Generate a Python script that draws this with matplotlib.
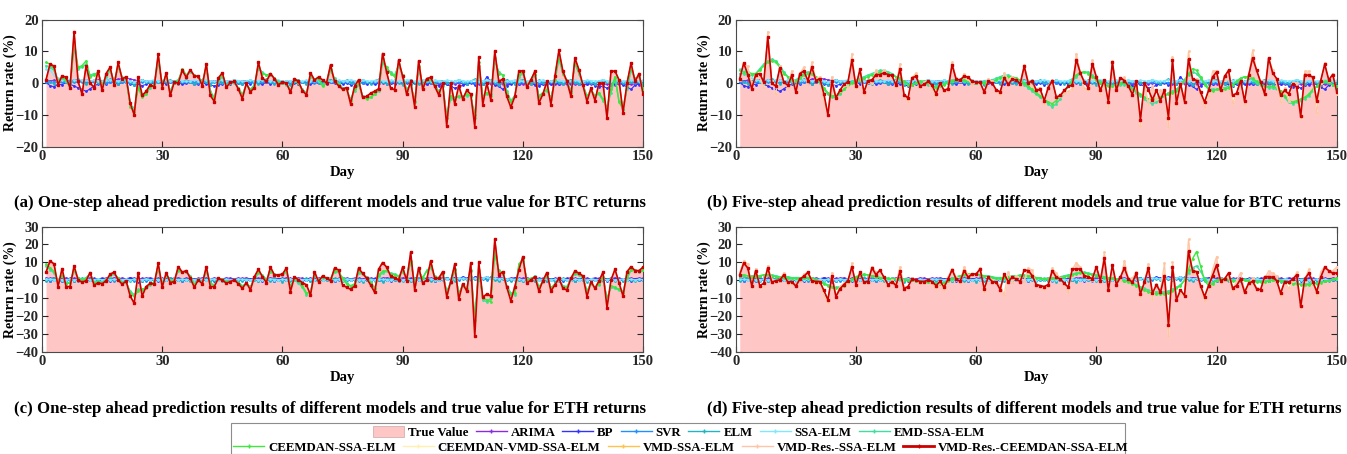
import matplotlib
matplotlib.use('Agg')
import matplotlib.pyplot as plt
from matplotlib.patches import Patch, Rectangle
from matplotlib.lines import Line2D
import numpy as np

plt.rcParams['font.family'] = ['Liberation Serif', 'DejaVu Serif']
plt.rcParams['font.weight'] = 'bold'
plt.rcParams['axes.labelweight'] = 'bold'

days = np.arange(1, 151)

# true returns (%)
btc_true = [1.0, 6.0, 5.3, -0.5, 2.3, 1.8, -1.5, 16.2, 0.5, -3.5,
            5.5, 0.0, -1.4, 3.9, -2.3, 3.0, 5.0, -0.7, 6.5, 1.3,
            2.0, -6.3, -10.0, 2.0, -3.9, -2.6, -0.5, -1.2, 9.2, -1.4,
            3.2, -3.9, 0.3, 0.0, 4.0, 1.8, 4.2, 2.3, 2.1, -0.8,
            6.1, -3.9, -5.8, 1.6, 3.2, -1.3, 0.2, 0.5, -1.9, -4.9,
            0.0, -2.8, -1.4, 6.5, 1.6, 0.5, 3.0, 1.4, -0.5, 0.3,
            0.0, -2.9, 1.4, 0.5, -2.4, -3.7, 3.2, 1.0, 1.9, 1.0,
            0.0, 5.7, 0.5, -0.8, -1.9, -1.4, -6.5, -1.0, 1.0, -4.4,
            -4.2, -3.2, -2.6, -1.8, 9.3, 3.4, -1.6, -2.1, 7.2, 2.1,
            -3.5, 0.5, -7.4, 7.0, -1.9, 1.4, 1.8, -1.0, -3.7, 0.0,
            -13.5, 0.0, -6.6, -0.8, -5.0, -2.3, -3.5, -13.7, 8.1, -6.8,
            0.0, -5.3, 10.0, 0.5, 1.3, -4.2, -7.6, -4.2, 3.7, 3.9,
            -1.3, 1.0, 3.7, -6.3, -3.5, 0.5, -6.8, 2.1, 10.3, 3.7,
            0.5, -4.2, 7.9, 4.2, -0.7, -5.8, -1.6, -5.5, 0.0, 0.0,
            -11.0, 3.7, 3.8, 1.0, -9.3, 0.0, 6.3, 0.5, 3.0, -3.4]

eth_true = [4.5, 10.8, 9.1, -3.5, 6.5, -3.5, -3.5, 8.0, 0.2, -1.1,
            -0.2, 4.3, -2.8, -1.3, -2.0, -0.2, 3.4, 4.5, 0.2, -2.2,
            -0.4, -8.8, -12.8, 4.3, -8.8, -3.5, -1.7, -2.2, 9.5, -3.9,
            4.3, -1.3, -0.7, 7.6, 4.5, 5.4, 1.1, -3.9, 0.2, -2.0,
            7.6, -3.5, -3.5, 1.1, 0.2, -1.7, -0.7, 0.2, -2.0, -4.5,
            -1.3, -5.4, 2.0, 6.1, 2.0, -1.3, 7.3, 3.0, 3.0, 3.4,
            6.9, -6.3, 2.0, 0.2, -1.3, -2.6, -8.2, 4.8, -0.7, 2.4,
            1.1, -0.2, 6.7, 5.8, -2.6, -3.9, -5.0, -3.2, 6.7, 3.9,
            1.1, -2.6, -6.7, 6.1, 9.9, 7.3, 2.4, 1.5, 0.2, 7.3,
            -0.2, 15.5, -5.4, 7.1, -1.7, 0.2, 10.8, 1.1, 1.1, 4.8,
            -9.1, -0.7, 8.9, -10.6, -2.0, -6.0, 9.5, -31.1, 10.0, -9.5,
            -7.6, -8.8, 22.9, 3.0, 4.8, -3.9, -11.5, -3.5, 5.8, 13.2,
            -1.7, 0.2, 2.0, -6.0, -0.2, 4.3, -6.0, -2.6, 1.1, -4.5,
            -5.4, 1.1, 5.2, 3.9, 2.4, -9.1, -0.7, -4.5, -0.4, 4.5,
            -15.3, 0.2, 6.1, -1.3, -8.8, 4.8, 7.6, 5.4, 5.4, 7.3]

# VMD-Res.-CEEMDAN-SSA-ELM, five-step
b_red = [1.4, 6.3, 2.7, -1.8, 2.7, 3.0, 0.3, 14.5, 0.0, -1.0,
         4.8, 0.3, -0.7, 2.4, -2.8, 3.0, 3.8, 0.8, 5.0, 0.8,
         1.4, -3.4, -10.0, 0.6, -4.6, -2.3, -0.4, 0.3, 7.2, -1.0,
         4.3, -2.8, 0.8, 1.0, 2.7, 2.7, 3.2, 2.7, 2.4, -0.7,
         4.5, -3.6, -4.7, 1.7, 2.1, -1.0, -0.4, 0.5, -0.7, -3.4,
         0.0, -2.3, -1.8, 5.8, 1.2, 1.0, 2.1, 1.9, 0.5, 0.3,
         0.2, -2.8, 0.5, 0.0, -2.1, -2.8, 1.7, -0.4, 1.2, 1.0,
         -0.2, 5.3, 0.0, 0.8, -2.3, -2.0, -5.5, -1.4, 0.8, -4.4,
         -3.9, -2.3, -1.0, -0.7, 7.4, 3.2, 0.3, -1.5, 6.1, 1.9,
         -2.3, 1.0, -6.0, 6.6, -2.3, 1.7, 0.8, -0.9, -3.6, 0.5,
         -11.6, 0.0, -2.1, -5.2, -2.3, -5.5, -2.1, -10.9, 7.2, -6.3,
         -0.2, -5.8, 7.5, 1.4, 0.8, -2.8, -6.0, -2.3, 1.9, 3.5,
         -2.3, 2.1, 4.0, -3.9, -3.2, 0.8, -5.7, 2.4, 7.9, 4.0,
         0.3, -3.4, 7.9, 3.2, 1.4, -3.9, -2.3, -3.4, -0.2, -1.3,
         -10.5, 2.7, 2.4, 1.9, -5.7, 0.8, 5.9, 1.0, 2.7, -2.8]

d_red = [3.1, 9.6, 6.9, -3.0, 5.4, -3.0, -1.7, 6.9, -1.1, -0.2,
         0.2, 3.0, -1.1, -0.7, -3.3, 0.7, 2.2, 4.4, -0.2, -0.7,
         -0.7, -5.7, -10.9, 2.2, -9.1, -4.8, -2.4, -0.2, 7.6, -2.4,
         4.4, -1.1, -0.7, 6.9, 3.1, 5.7, 1.7, -2.4, -0.7, -3.0,
         5.0, -4.8, -3.5, 0.7, 0.2, -0.7, -0.7, 0.2, -0.7, -3.0,
         -0.6, -3.9, 0.7, 5.9, 0.7, -0.6, 5.4, 1.7, 3.5, 3.5,
         6.3, -4.8, 1.7, -0.7, -1.1, -5.2, 3.5, -0.7, 1.7, 0.7,
         -0.7, 5.7, 5.4, 2.6, -2.4, -3.0, -3.5, -2.4, 5.4, 1.7,
         0.7, -1.7, -3.9, 6.3, 6.3, 6.3, 2.6, 2.0, 0.7, 7.6,
         -0.2, 12.2, -5.4, 8.5, -2.4, 1.7, 6.9, 0.7, -1.1, 3.9,
         -7.6, -1.1, 6.9, -7.2, -2.4, -6.7, 2.6, -25.2, 7.6, -10.9,
         -5.4, -8.5, 16.1, 5.4, 4.8, -3.0, -9.1, -3.0, 2.6, 8.5,
         -0.2, 0.7, 4.1, -4.3, -3.0, 0.7, -6.7, -1.7, -0.6, -4.8,
         -5.2, 2.0, 2.0, 1.7, -0.2, -7.2, -0.7, -1.1, 0.7, 3.0,
         -14.6, 0.7, 3.9, -0.7, -6.3, 1.7, 7.2, 5.4, 3.9, 4.1]

# EMD-SSA-ELM / CEEMDAN-SSA-ELM
a_emd = [5.5, 5.0, 4.0, 1.0, 1.5, 0.5, -1.0, 11.0, 4.5, 5.0,
         6.0, 2.5, 3.0, 3.0, -0.5, 2.0, 4.0, 0.5, 5.0, 2.0,
         1.0, -6.5, -8.0, -1.0, -4.0, -3.0, -1.5, -0.5, 6.5, 0.0,
         2.0, -2.5, 0.5, 1.0, 4.0, 2.5, 3.5, 2.5, 2.0, 0.5,
         4.5, -2.5, -4.5, 0.5, 2.0, -0.5, 0.0, 0.0, -1.5, -3.5,
         -0.5, -2.0, -0.5, 4.5, 3.5, 2.5, 2.5, 1.5, 0.5, 0.0,
         -0.5, -2.0, 0.5, 0.0, -2.0, -3.0, 2.0, 1.0, 1.0, -0.5,
         0.5, 4.0, 1.5, 0.0, -1.5, -2.0, -5.0, -2.5, -0.5, -4.0,
         -4.5, -4.5, -3.5, -2.5, 6.5, 4.5, 3.5, 2.5, 5.5, 2.5,
         -2.0, -0.5, -5.5, 5.0, -0.5, 0.5, 1.0, -0.5, -2.5, -1.0,
         -10.0, -5.0, -4.5, -4.5, -4.0, -4.0, -4.0, -10.0, 5.5, -4.0,
         -3.5, -3.5, 7.0, 3.5, 2.5, -2.5, -5.5, -4.0, 2.0, 3.0,
         -0.5, 0.5, 2.5, -4.0, -3.0, -2.5, -4.5, 0.5, 7.5, 3.0,
         1.0, -2.5, 6.0, 3.0, -0.5, -4.0, -2.5, -4.0, -3.5, -5.5,
         -7.5, -3.0, 1.5, -5.5, -8.5, -2.0, 4.0, 1.5, 2.0, -1.5]

a_ceemdan = [6.5, 6.0, 4.5, 0.5, 2.0, 1.0, -1.5, 13.0, 5.0, 5.5,
             7.0, 2.0, 2.5, 3.5, -1.0, 2.5, 4.5, 0.0, 5.5, 1.5,
             1.5, -7.5, -9.0, -1.5, -4.5, -3.5, -1.0, -0.5, 7.5, -0.5,
             2.5, -3.0, 0.0, 0.5, 4.5, 2.5, 4.0, 2.5, 2.0, 0.0,
             5.0, -3.0, -5.0, 1.0, 2.5, -1.0, 0.0, 0.5, -1.5, -4.0,
             -0.5, -2.0, -1.0, 5.0, 3.0, 2.5, 3.0, 1.5, 0.0, 0.0,
             0.0, -2.5, 1.0, 0.0, -2.5, -3.5, 2.5, 1.0, 1.5, -1.0,
             0.0, 4.5, 1.0, -0.5, -2.0, -2.0, -5.5, -2.0, 0.0, -4.5,
             -5.0, -4.5, -3.5, -2.0, 7.5, 5.0, 3.0, 2.0, 6.0, 2.5,
             -2.5, 0.0, -6.0, 5.5, -1.0, 1.0, 1.5, -0.5, -3.0, -0.5,
             -11.0, -4.0, -5.0, -4.0, -4.5, -3.5, -4.0, -11.0, 6.5, -4.5,
             -3.0, -4.0, 8.0, 3.0, 2.5, -3.0, -6.0, -4.0, 2.5, 3.5,
             -1.0, 1.0, 3.0, -4.5, -3.0, -2.0, -5.0, 1.0, 8.5, 3.0,
             0.5, -3.0, 6.5, 3.5, -0.5, -4.5, -2.0, -4.0, -3.0, -5.0,
             -8.0, -2.0, 2.0, -6.0, -8.0, -1.0, 5.0, 1.0, 2.5, -2.0]

b_emd = [3.0, 3.0, 2.5, 2.5, 3.0, 4.5, 6.0, 7.0, 7.5, 7.0,
         5.5, 3.5, 2.0, 1.0, 1.0, 2.0, 3.0, 3.5, 3.0, 1.5,
         0.0, -2.0, -3.5, -4.5, -4.5, -3.5, -2.0, -0.5, 0.5, 1.0,
         1.5, 2.0, 2.5, 3.0, 3.5, 4.0, 4.0, 3.5, 3.0, 2.0,
         1.0, 0.0, -0.5, -0.5, 0.0, 0.0, 0.0, -0.5, -1.0, -1.0,
         -0.5, 0.0, 0.5, 1.0, 1.0, 1.0, 0.5, 0.5, 0.0, 0.0,
         0.0, 0.5, 0.5, 1.0, 1.5, 2.0, 2.5, 2.5, 2.0, 1.5,
         0.5, -0.5, -1.5, -2.5, -3.5, -4.5, -5.5, -6.5, -7.5, -6.5,
         -5.0, -3.0, -1.0, 0.5, 2.0, 3.0, 3.5, 3.5, 2.5, 1.5,
         0.5, 0.0, -0.5, -1.0, -0.5, -0.5, -0.5, -1.0, -2.0, -3.0,
         -4.0, -5.0, -6.0, -6.5, -6.0, -5.0, -4.0, -3.0, -2.5, -2.0,
         -0.5, 1.0, 2.5, 3.5, 3.0, 1.5, 0.0, -1.5, -2.0, -2.0,
         -1.5, -1.5, -1.0, -0.5, 0.5, 1.5, 2.0, 2.0, 1.0, 0.0,
         -0.5, -1.0, -1.5, -1.5, -2.0, -3.0, -4.5, -6.0, -6.5, -6.0,
         -5.5, -5.0, -4.0, -2.5, -1.0, 0.0, 0.5, 0.5, -0.5, -1.0]

b_ceemdan = [4.0, 3.5, 3.5, 3.0, 3.0, 4.0, 5.5, 6.5, 7.0, 6.5,
             5.0, 3.0, 2.0, 1.0, 0.5, 1.5, 2.5, 3.0, 3.0, 2.0,
             0.5, -1.5, -3.0, -4.0, -4.0, -3.0, -2.0, -1.0, 0.0, 0.5,
             1.0, 1.5, 2.0, 2.5, 3.0, 3.5, 3.5, 3.0, 2.5, 2.0,
             1.5, 0.5, -0.5, -0.5, 0.0, 0.5, 0.5, 0.0, -1.0, -1.5,
             -1.0, -0.5, 0.0, 0.5, 1.0, 1.0, 1.0, 0.5, 0.5, 0.0,
             0.0, 0.0, 0.5, 0.5, 1.0, 1.5, 2.0, 2.0, 2.0, 1.5,
             1.0, 0.0, -1.0, -2.0, -3.0, -4.0, -5.0, -6.0, -6.5, -5.5,
             -4.0, -2.5, -1.0, 1.0, 2.5, 3.5, 3.5, 3.0, 2.0, 1.0,
             0.0, -0.5, -1.0, -1.0, -0.5, 0.0, 0.0, -0.5, -1.5, -2.5,
             -3.5, -4.5, -5.0, -5.0, -5.0, -4.5, -4.0, -3.5, -3.0, -2.5,
             -1.0, 1.0, 3.0, 4.5, 4.0, 2.0, -0.5, -2.0, -2.5, -2.0,
             -2.0, -2.0, -1.5, -0.5, 0.5, 1.5, 2.0, 2.0, 1.5, 0.5,
             -0.5, -1.0, -1.0, -1.0, -1.5, -2.5, -4.0, -5.5, -6.0, -5.5,
             -5.0, -4.5, -3.5, -2.0, -1.0, 0.0, 0.5, 0.0, -0.5, -1.0]

c_emd = [8.0, 6.0, 4.0, 0.0, 2.5, -1.5, -1.0, 5.0, 1.5, 0.5,
         1.5, 3.5, -1.0, -0.5, -1.0, 0.5, 2.5, 3.5, 1.5, -1.0,
         -1.5, -6.0, -8.0, -5.0, -5.5, -4.5, -2.5, -1.0, 6.0, -1.5,
         2.5, 0.0, 0.5, 5.0, 4.5, 4.5, 2.5, -2.0, 0.5, -1.0,
         5.0, -1.5, -2.5, 0.5, 0.5, -0.5, -0.5, 0.0, -1.0, -3.0,
         -2.0, -3.5, 0.5, 4.0, 3.0, 0.5, 4.5, 3.5, 3.0, 3.0,
         4.5, -3.0, 0.0, -1.5, -4.0, -8.0, -6.0, 2.5, 0.5, 1.5,
         1.5, 1.0, 4.5, 4.5, 1.5, -1.5, -3.5, -2.5, 4.0, 3.5,
         2.0, -1.0, -4.5, 2.5, 4.0, 5.0, 4.0, 3.5, 2.5, 4.5,
         1.5, 10.0, -1.5, 5.0, 1.5, 5.5, 7.0, 2.5, 1.0, 3.5,
         -6.0, -1.5, 5.5, -7.0, -3.0, -4.5, 5.0, -20.0, 5.0, -11.0,
         -12.0, -10.0, 14.0, 6.0, 3.5, -3.0, -7.0, -8.0, 8.0, 11.0,
         0.5, 0.5, 2.5, -3.5, -1.0, 2.5, -4.0, -2.5, 0.5, -3.0,
         -3.5, 0.5, 3.5, 3.0, 1.5, -6.0, -2.0, -4.0, -2.5, 1.5,
         -10.0, -4.0, -4.5, -5.5, -6.0, 1.0, 5.5, 6.0, 4.5, 5.5]

c_ceemdan = [9.0, 7.0, 5.0, -1.0, 3.0, -2.0, -1.5, 6.0, 1.0, 0.0,
             1.0, 4.0, -1.5, -1.0, -1.5, 0.0, 3.0, 4.0, 1.0, -1.5,
             -1.0, -7.0, -9.0, -6.0, -5.0, -4.0, -2.0, -1.0, 7.0, -2.0,
             3.0, -0.5, 0.0, 5.5, 4.5, 5.0, 2.0, -2.5, 0.0, -1.5,
             5.5, -2.0, -3.0, 1.0, 0.5, -1.0, -0.5, 0.0, -1.5, -3.5,
             -1.5, -4.0, 1.0, 4.5, 2.5, 0.0, 5.0, 3.0, 3.0, 3.5,
             5.0, -4.0, 1.0, 0.0, -3.0, -7.0, -7.0, 3.5, 0.0, 2.0,
             1.0, 0.5, 5.0, 5.0, 1.0, -2.0, -3.0, -2.0, 5.0, 3.5,
             1.5, -1.5, -5.0, 3.0, 5.0, 5.5, 3.5, 3.0, 2.0, 5.0,
             1.0, 11.0, -2.0, 5.5, 1.0, 5.0, 8.0, 2.0, 1.5, 4.0,
             -7.0, -1.0, 6.5, -8.0, -2.0, -5.0, 6.0, -22.0, 6.0, -10.0,
             -11.0, -12.0, 16.0, 5.0, 4.0, -4.0, -8.0, -7.0, 9.0, 12.0,
             0.0, 1.0, 2.0, -4.0, -0.5, 3.0, -4.5, -2.0, 1.0, -3.5,
             -4.0, 1.0, 4.0, 3.5, 2.0, -6.5, -1.5, -4.5, -2.0, 2.0,
             -11.0, -3.0, -4.0, -5.0, -7.0, 2.0, 6.0, 5.5, 5.0, 6.0]

d_emd = [2.0, 2.5, 2.5, 2.5, 2.5, 2.5, 3.0, 3.0, 3.0, 2.5,
         2.0, 2.0, 2.0, 1.5, 1.5, 1.5, 1.5, 1.5, 1.0, 0.5,
         -0.5, -1.5, -2.5, -3.5, -4.0, -3.5, -2.5, -1.0, 0.5, 1.5,
         2.5, 3.0, 3.0, 2.5, 2.0, 1.5, 1.5, 1.0, 1.0, 0.5,
         0.5, 0.5, 0.0, 0.0, 0.0, -0.5, -0.5, -1.0, -1.0, -1.5,
         -1.5, -1.0, 0.0, 1.0, 2.0, 2.5, 3.0, 3.0, 3.5, 3.5,
         3.0, 2.5, 2.5, 2.0, 1.5, 1.5, 1.5, 2.0, 2.5, 2.5,
         3.0, 3.0, 2.5, 2.0, 1.5, 1.0, 1.0, 1.0, 1.0, 1.5,
         2.0, 2.5, 3.0, 3.5, 4.0, 4.5, 4.5, 4.0, 3.5, 3.0,
         2.5, 2.0, 1.5, 1.0, 0.5, 0.5, 0.0, -0.5, -1.5, -2.5,
         -3.5, -4.5, -5.5, -6.0, -6.5, -6.5, -6.5, -6.0, -5.0, -4.0,
         -2.5, 0.0, 4.0, 7.0, 8.0, 5.0, 1.0, -1.5, -1.5, 0.0,
         1.0, 1.0, 0.5, 0.0, 0.0, 0.0, 0.5, 0.0, -0.5, -0.5,
         -0.5, -0.5, 0.0, 0.0, 0.5, 0.0, -0.5, -1.0, -1.5, -1.5,
         -2.0, -2.0, -2.0, -1.5, -1.5, -1.0, -0.5, 0.0, 0.5, 0.5]

d_ceemdan = [3.0, 3.0, 2.5, 2.0, 2.0, 2.5, 3.0, 3.0, 2.5, 2.0,
             1.5, 1.5, 1.5, 1.0, 1.0, 1.0, 1.5, 1.5, 1.0, 0.0,
             -1.0, -2.0, -3.0, -4.0, -4.5, -4.0, -3.0, -1.5, 0.5, 2.0,
             3.0, 3.5, 3.0, 2.5, 2.0, 1.5, 1.0, 1.0, 0.5, 0.5,
             0.5, 0.0, 0.0, 0.0, -0.5, -0.5, -1.0, -1.0, -1.5, -2.0,
             -2.0, -1.5, -0.5, 0.5, 1.5, 2.5, 3.0, 3.5, 3.5, 3.5,
             3.0, 2.5, 2.0, 1.5, 1.0, 1.0, 1.5, 2.0, 2.0, 2.5,
             2.5, 2.5, 2.5, 2.0, 1.5, 1.0, 0.5, 0.5, 1.0, 1.0,
             1.5, 2.0, 2.5, 3.0, 3.5, 4.0, 4.0, 3.5, 3.0, 2.5,
             2.0, 1.5, 1.0, 1.0, 0.5, 0.0, -0.5, -1.0, -2.0, -3.0,
             -4.5, -5.5, -6.5, -7.0, -7.5, -7.5, -7.5, -7.0, -6.0, -4.5,
             -3.0, 0.0, 6.0, 12.0, 16.0, 8.0, 0.0, -3.0, -2.0, 0.0,
             0.5, 0.5, 0.0, -0.5, -0.5, 0.0, 0.0, -0.5, -0.5, -1.0,
             -1.0, -1.0, -0.5, 0.0, 0.0, -0.5, -1.0, -1.5, -2.0, -2.0,
             -2.5, -2.5, -2.5, -2.0, -2.0, -1.5, -0.5, 0.0, 0.5, 1.0]

# single models, nearly flat around zero
btc_arima = [.8, .7, .9, .6, .8, .9, .7, 1.0, .6, .8,
             .9, .7, .8, 1.0, .8, .9, 1.1, 1.0, 1.2, 1.4,
             1.5, 1.3, 1.0, .8, .9, .7, .6, .8, .5, .7,
             .6, .8, .7, .5, .6, .8, .7, .6, .5, .7,
             .6, .5, .7, .8, .6, .5, .7, .6, .5, .6,
             .7, .5, .6, .4, .6, .5, .4, .6, .5, .4,
             .5, .6, .4, .5, .3, .5, .4, .6, .5, .4,
             .3, .4, .5, .3, .4, .2, .3, .4, .3, .2,
             .3, .1, .2, .3, .1, .2, 0, .1, .2, 0,
             -.1, .1, 0, -.1, .1, -.2, 0, -.1, -.2, 0,
             -.2, -.1, -.3, -.1, -.2, -.3, -.1, -.2, -.3, -.2,
             -.1, -.3, -.2, -.4, -.2, -.3, -.1, -.2, -.4, -.3,
             -.2, -.3, -.4, -.2, -.3, -.4, -.3, -.2, -.4, -.3,
             -.3, -.2, -.4, -.3, -.5, -.3, -.4, -.3, -.5, -.4,
             -.3, -.4, -.5, -.3, -.4, -.5, -.4, -.3, -.5, -.4]

btc_bp = [.2, -.8, -1.2, -.3, -.5, .2, -.4, -.9, -1.5, -2.0,
          -2.6, -1.8, -.9, -.3, .1, -.2, .3, .1, -.3, .2,
          .4, -.2, -.6, -.3, -.8, -.4, .1, -.2, .3, .1,
          -.2, .2, -.1, .3, -.3, -.1, .2, -.4, -.2, .1,
          -.3, -.6, -.9, -.5, -.2, .1, -.3, .2, -.1, -.4,
          .1, -.2, .3, -.1, -.3, .2, -.2, .1, -.4, -.1,
          .2, -.3, .1, -.2, .3, -.1, -.4, .2, -.1, .1,
          -.2, .3, -.1, .2, -.3, .1, -.5, -.2, .4, -.1,
          -.3, .2, -.4, -.1, .3, -.2, .1, -.3, .2, -.1,
          .2, -.4, -.1, .3, -.6, -.2, .1, -.3, -.8, -.2,
          -.4, -1.0, -1.6, -1.2, -.7, -.3, .2, -.5, .8, -.2,
          2.0, .4, -.6, -1.0, -2.0, -.8, -.3, .1, -.4, .2,
          -.3, .1, -.5, -.9, -.2, .3, -.4, .1, -.2, .3,
          -.1, -.4, .2, -.3, -.6, -.2, .1, -.8, -1.2, -1.0,
          -1.6, -.7, -.2, .2, -.5, -1.2, -2.0, -.6, -.2, .1]

btc_svr = [.3, .2, .4, .1, .3, .2, .5, .3, .2, .4,
           .1, .3, .2, .4, .2, .1, .3, .2, .4, .3,
           .2, .1, .3, .2, .4, .3, .1, .2, .3, .2,
           .4, .2, .3, .1, .2, .3, .4, .2, .1, .3,
           .2, .4, .3, .1, .2, .3, .2, .4, .1, .3,
           .2, .3, .1, .4, .2, .3, .2, .1, .3, .4,
           .2, .1, .3, .2, .4, .3, .2, .1, .3, .2,
           .4, .2, .3, .1, .2, .3, .4, .2, .3, .1,
           .3, .2, .4, .1, .3, .2, .3, .4, .2, .1,
           .3, .2, .1, .4, .2, .3, .1, .2, .3, .4,
           .2, .1, .3, .2, .4, .3, .2, .1, .3, .2,
           .4, .2, .3, .1, .2, .3, .4, .2, .1, .3,
           .2, .4, .3, .1, .2, .3, .2, .4, .1, .3,
           .2, .3, .1, .4, .2, .3, .2, .1, .3, .4,
           .2, .1, .3, .2, .4, .3, .2, .1, .3, .2]

btc_elm = [1.0, .3, -.2, .6, 1.1, .2, -.4, .8, 1.3, .5,
           -.3, .4, .9, .1, -.5, .7, 1.2, .3, -.2, .6,
           1.0, .2, -.6, .5, 1.1, .4, -.1, .8, .2, -.4,
           .6, 1.0, .1, -.3, .7, .9, .2, -.2, .5, 1.1,
           .3, -.5, .4, .8, .1, -.3, .6, 1.0, .2, -.4,
           .5, .9, .1, -.2, .7, 1.2, .3, -.3, .4, .8,
           .2, -.5, .6, 1.0, .3, -.2, .5, .9, .1, -.4,
           .7, 1.1, .2, -.3, .6, .9, .0, -.4, .5, 1.0,
           .3, -.2, .8, 1.2, .4, -.3, .5, .9, .1, -.5,
           .6, 1.0, .2, -.3, .7, 1.1, .3, -.2, .5, .8,
           .1, -.4, .6, 1.0, .2, -.3, .7, 1.2, .4, -.2,
           .5, .9, .1, -.5, .6, 1.0, .3, -.2, .8, 1.1,
           .2, -.4, .5, .9, .1, -.3, .7, 1.0, .2, -.2,
           .6, 1.1, .3, -.4, .5, .8, .1, -.3, .7, 1.0,
           .2, -.2, .6, .9, .1, -.5, .4, 1.0, .3, -.1]

btc_ssa = [4.5, 4.0, 2.5, 1.5, 1.0, .8, 1.2, .9, .7, 1.1,
           .9, .6, 1.0, .8, .5, .9, 1.1, .7, .6, 1.0,
           .8, .5, .4, .7, .9, .6, .8, 1.0, .7, .5,
           .9, .7, .6, 1.0, .8, .5, .7, .9, .6, .8,
           1.0, .7, .5, .8, .9, .6, .7, 1.0, .8, .5,
           .6, .9, .7, .8, 1.0, .6, .5, .8, .9, .7,
           .6, .8, 1.0, .7, .5, .9, .8, .6, .7, 1.0,
           .8, .5, .7, .9, .6, .8, 1.0, .7, .5, .9,
           .7, .6, .8, 1.0, .7, .5, .9, .8, .6, .7,
           1.0, .8, .5, .7, .9, .6, .8, 1.0, .7, .5,
           .9, .7, .6, 1.0, .8, .5, .7, .9, .6, .8,
           1.0, .7, .5, .8, .9, .6, .7, 1.0, .8, .5,
           .6, .9, .7, .8, 1.0, .6, .5, .8, .9, .7,
           .6, .8, 1.0, .7, .5, .9, .8, .6, .7, 1.0,
           .8, .5, .7, .9, .6, .8, 1.0, .7, .5, .9]

eth_arima = [1.2, 1.0, 1.4, .9, 1.1, 1.3, .8, 1.0, 1.2, .9,
             1.1, 1.3, 1.0, .8, 1.2, 1.1, .9, 1.3, 1.0, 1.2,
             .9, 1.4, 1.1, .8, 1.0, 1.2, 1.3, .9, 1.1, 1.0,
             .8, 1.2, 1.0, 1.3, .9, 1.1, 1.2, .8, 1.0, 1.3,
             1.1, .9, 1.2, 1.0, .8, 1.3, 1.1, .9, 1.2, 1.0,
             1.3, .8, 1.1, 1.0, 1.2, .9, 1.3, 1.1, .8, 1.0,
             1.2, 1.0, .9, 1.3, 1.1, .8, 1.2, 1.0, 1.3, .9,
             1.1, 1.2, .8, 1.0, 1.3, 1.1, .9, 1.2, 1.0, .8,
             1.3, 1.1, 1.0, .9, 1.2, 1.4, 1.0, .8, 1.1, 1.3,
             .9, 1.2, 1.0, 1.1, .8, 1.3, 1.2, .9, 1.0, 1.4,
             1.1, .8, 1.2, 1.5, 1.3, .9, 1.0, 1.6, 1.2, 1.4,
             1.8, 1.3, 1.0, 1.5, 1.1, .9, 1.2, 1.4, 1.0, 1.1,
             1.3, .9, 1.2, 1.0, 1.1, 1.3, .8, 1.0, 1.2, .9,
             1.1, 1.3, 1.0, .8, 1.2, 1.1, .9, 1.3, 1.0, 1.2,
             .9, 1.1, 1.3, 1.0, .8, 1.2, 1.1, .9, 1.2, 1.0]

eth_bp = [.5, -.3, .8, .2, -.6, .4, 1.0, -.2, .3, .7,
          -.4, .1, .6, -.1, .9, .3, -.5, .2, .8, -.3,
          .4, 1.2, .5, -.8, -.2, .3, .7, .1, -.4, .6,
          .2, .9, -.1, .4, -.5, .3, .8, .0, .5, -.2,
          .7, .1, -.3, .6, .2, .9, -.1, .4, .0, .6,
          -.3, .5, .8, .1, -.2, .7, .3, -.4, .5, .9,
          .2, -.1, .6, .3, -.5, .1, .8, .4, -.2, .5,
          .9, .1, -.3, .6, .2, .7, -.1, .3, .8, .0,
          .4, -.4, .6, .2, .9, .1, -.2, .5, .7, .3,
          -.1, .8, .4, .0, .6, 1.0, .3, -.2, .7, .5,
          1.2, .6, 1.5, .8, 1.9, 1.1, .7, 1.6, 2.0, 1.3,
          .9, 1.7, 1.2, .6, 1.4, .8, .3, 1.0, .5, .2,
          .6, -.1, .4, .8, .1, -.3, .5, .9, .2, -.2,
          .7, .3, -.4, .6, 1.0, .1, -.1, .5, .8, .3,
          -.2, .4, .9, .0, .6, .2, -.3, .7, .4, .1]

eth_svr = [.1, -.2, .3, 0, -.3, .2, -.1, .4, -.2, .1,
           .3, -.1, .0, .2, -.3, .1, .4, -.2, .0, .3,
           -.1, .2, -.4, .1, .3, -.2, .0, .2, -.1, .4,
           .0, -.3, .2, .1, -.2, .3, -.1, .0, .4, -.2,
           .1, .3, -.1, .0, .2, -.3, .1, .4, -.2, .0,
           .3, -.1, .2, -.2, .1, .4, .0, -.3, .2, .1,
           -.1, .3, .0, -.2, .4, .1, -.3, .2, .0, -.1,
           .3, .1, -.2, .4, .0, -.1, .2, .3, -.3, .1,
           .0, .2, -.1, .4, -.2, .1, .3, .0, -.3, .2,
           .1, -.2, .4, .0, -.1, .3, .2, -.3, .1, .0,
           .5, .2, .8, .4, 1.0, .6, .3, .9, 1.2, .7,
           .4, 1.0, .6, .2, .8, .3, -.1, .4, .1, -.2,
           .2, .0, -.3, .3, .1, -.1, .4, .0, -.2, .2,
           .1, .3, -.2, .0, .4, -.1, .2, .1, -.3, .3,
           .0, -.1, .2, .4, -.2, .1, .3, .0, -.1, .2]

eth_elm = [-.5, .6, 1.0, -.8, .3, -.2, .9, -.6, .4, 1.1,
           -.3, .5, -.9, .7, .2, -.4, 1.0, -.1, .6, -.7,
           .3, -.5, .8, .1, -.6, .9, .4, -.3, .7, -.8,
           .2, 1.0, -.4, .5, -.1, .8, -.6, .3, .9, -.2,
           .6, -.7, .1, 1.0, -.3, .4, -.8, .7, .2, -.5,
           .9, -.1, .5, -.6, .8, .0, -.4, 1.0, .3, -.7,
           .6, -.2, .9, -.5, .4, 1.1, -.3, .2, -.8, .7,
           .1, -.4, 1.0, .5, -.6, .3, .8, -.2, .6, -.9,
           .4, .9, -.3, .2, -.7, .6, 1.0, -.1, .5, -.4,
           .8, -.6, .3, 1.1, -.2, .7, -.5, .4, .0, .9,
           1.3, .6, -.2, 1.5, .8, .2, 1.7, .9, .4, 1.2,
           .5, 1.8, .3, -.4, 1.0, .6, -.3, .8, .2, -.5,
           .7, .1, -.6, .9, .4, -.2, .6, -.8, .3, 1.0,
           -.1, .5, -.4, .8, .2, -.7, .9, .0, .4, -.3,
           .6, 1.0, -.5, .3, -.2, .7, .1, -.6, .5, .2]

eth_ssa = [.8, .5, .3, .6, .2, .4, .7, .1, .5, .3,
           .6, .2, .4, .8, .3, .5, .1, .6, .4, .2,
           .7, .3, .5, .1, .4, .6, .2, .8, .3, .5,
           .4, .1, .6, .3, .7, .2, .5, .4, .1, .6,
           .3, .5, .8, .2, .4, .6, .1, .3, .7, .5,
           .2, .4, .6, .3, .1, .5, .8, .4, .2, .6,
           .3, .7, .1, .5, .4, .2, .6, .3, .8, .4,
           .5, .1, .3, .6, .2, .7, .4, .5, .1, .3,
           .6, .4, .2, .8, .5, .3, .1, .6, .4, .2,
           .7, .3, .5, .1, .6, .4, .8, .2, .3, .5,
           .9, 1.2, .6, 1.4, 1.0, .7, 1.5, 1.1, .8, 1.3,
           1.6, .9, 1.2, .7, 1.0, .5, .8, .4, .6, .2,
           .5, .3, .7, .1, .4, .6, .2, .5, .3, .8,
           .4, .2, .6, .3, .5, .1, .7, .4, .2, .6,
           .3, .5, .1, .4, .7, .2, .6, .3, .5, .4]

models = ['ARIMA', 'BP', 'SVR', 'ELM', 'SSA-ELM', 'EMD-SSA-ELM',
          'CEEMDAN-SSA-ELM', 'CEEMDAN-VMD-SSA-ELM', 'VMD-SSA-ELM',
          'VMD-Res.-SSA-ELM', 'VMD-Res.-CEEMDAN-SSA-ELM']
colors = ['#8a2be2', '#3232ff', '#1e90ff', '#1fb5c5', '#7fe8ff', '#3de0a0',
          '#3ee83e', '#fff0b0', '#ffc34d', '#ffc4a8', '#cc0000']
true_color = '#ffc6c6'

captions = [
    '(a) One-step ahead prediction results of different models and true value for BTC returns',
    '(b) Five-step ahead prediction results of different models and true value for BTC returns',
    '(c) One-step ahead prediction results of different models and true value for ETH returns',
    '(d) Five-step ahead prediction results of different models and true value for ETH returns',
]

btc_flat = [btc_arima, btc_bp, btc_svr, btc_elm, btc_ssa]
eth_flat = [eth_arima, eth_bp, eth_svr, eth_elm, eth_ssa]

panels = [
    (btc_true, btc_flat + [a_emd, a_ceemdan, btc_true, btc_true, btc_true, btc_true], (-20, 20, 10)),
    (btc_true, btc_flat + [b_emd, b_ceemdan, btc_true, b_red, btc_true, b_red], (-20, 20, 10)),
    (eth_true, eth_flat + [c_emd, c_ceemdan, eth_true, eth_true, eth_true, eth_true], (-40, 30, 10)),
    (eth_true, eth_flat + [d_emd, d_ceemdan, eth_true, d_red, eth_true, d_red], (-40, 30, 10)),
]

# axes boxes in figure fractions [left, bottom, width, height]
boxes = [[0.0312, 0.677, 0.4462, 0.280],
         [0.5462, 0.677, 0.4462, 0.280],
         [0.0312, 0.2247, 0.4462, 0.2764],
         [0.5462, 0.2247, 0.4462, 0.2764]]

fig = plt.figure(figsize=(13.47, 4.54), dpi=100)

for i, (true, series, (ylo, yhi, ystep)) in enumerate(panels):
    ax = fig.add_axes(boxes[i])
    ax.fill_between(days, ylo, true, color=true_color, lw=0, zorder=1)
    for j, s in enumerate(series):
        if j == 10:
            ax.plot(days, s, color=colors[j], lw=1.2, marker='s', ms=1.6, zorder=5)
        elif j in (5, 6):
            ax.plot(days, s, color=colors[j], lw=1.0, marker='.', ms=2, zorder=3)
        else:
            ax.plot(days, s, color=colors[j], lw=0.8, marker='.', ms=2, zorder=2 + (j >= 7))
    ax.set_xlim(0, 150)
    ax.set_ylim(ylo, yhi)
    ax.set_xticks(range(0, 151, 30))
    ax.set_yticks(range(ylo, yhi + 1, ystep))
    ax.tick_params(direction='in', top=True, right=True, length=4, width=0.8,
                   labelsize=10.5, pad=2.5, colors='#262626')
    for lab in ax.get_xticklabels() + ax.get_yticklabels():
        lab.set_fontweight('bold')
    for sp in ax.spines.values():
        sp.set_color('#4a4a4a')
        sp.set_linewidth(0.8)
    ax.set_xlabel('Day', fontsize=10.5, labelpad=2)
    ax.set_ylabel('Return rate (%)', fontsize=10)
    ax.yaxis.set_label_coords(-0.041, 0.5)
    cx = boxes[i][0] + boxes[i][2] / 2
    cy = boxes[i][1] - 0.125
    fig.text(cx - 0.009, cy, captions[i], ha='center', va='center',
             fontsize=12.1, fontweight='bold')

# legend: framed box with two centred rows
row1 = [Patch(facecolor=true_color, edgecolor='#c8a8a8', lw=0.5, label='True Value')]
row1 += [Line2D([], [], color=colors[k], lw=1.0, marker='+', ms=3, label=models[k]) for k in range(6)]
row2 = [Line2D([], [], color=colors[k], lw=1.0 if k < 10 else 2.0, marker='+', ms=3,
               label=models[k]) for k in range(6, 11)]

kw = dict(loc='center', frameon=False, handlelength=2.4, handleheight=0.95,
          handletextpad=0.3, columnspacing=0.55, borderaxespad=0, borderpad=0,
          prop={'weight': 'bold', 'size': 9.3})
fig.legend(handles=row1, bbox_to_anchor=(0.504, 0.047), ncol=7, **kw)
fig.legend(handles=row2, bbox_to_anchor=(0.5056, 0.014), ncol=5, **kw)
fig.add_artist(Rectangle((0.1715, 0.001), 0.6635, 0.0673, transform=fig.transFigure,
                         fill=False, edgecolor='#8c8c8c', lw=0.8))

fig.savefig('out.png', dpi=100)
